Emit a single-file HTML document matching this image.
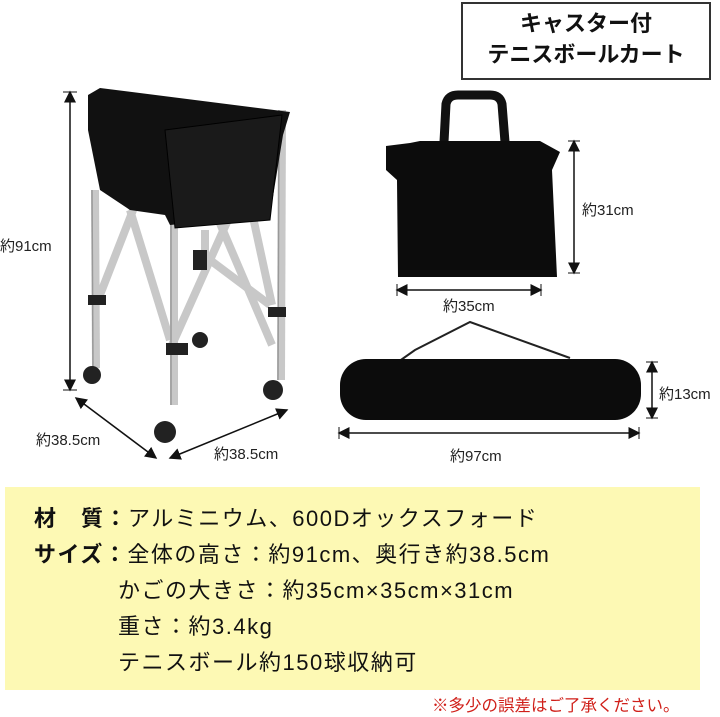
<!DOCTYPE html><html><head><meta charset="utf-8"><style>
body{margin:0;width:720px;height:717px;background:#fff;position:relative;overflow:hidden;font-family:"Liberation Sans","Noto Sans CJK JP",sans-serif;}
.t{position:absolute;white-space:nowrap;color:#222}
</style></head><body>
<svg width="720" height="717" style="position:absolute;left:0;top:0">
<defs><marker id="a" markerWidth="8" markerHeight="8" refX="7" refY="4" orient="auto-start-reverse"><path d="M0,0 L8,4 L0,8z" fill="#111"/></marker>
<linearGradient id="s" x1="0" x2="1"><stop offset="0" stop-color="#aaa"/><stop offset=".5" stop-color="#f4f4f4"/><stop offset="1" stop-color="#b0b0b0"/></linearGradient></defs>
<rect x="462" y="3" width="248" height="76" fill="#fff" stroke="#333" stroke-width="2"/>
<!-- cart -->
<g stroke="#c8c8c8" stroke-width="8" fill="none">
<line x1="95" y1="190" x2="96" y2="368"/><line x1="174" y1="125" x2="174" y2="405"/><line x1="282" y1="110" x2="281" y2="380"/><line x1="205" y1="230" x2="205" y2="270"/>
<line x1="180" y1="130" x2="272" y2="345"/><line x1="275" y1="115" x2="172" y2="345"/>
<line x1="135" y1="205" x2="98" y2="300"/><line x1="130" y1="210" x2="170" y2="340"/>
<line x1="210" y1="260" x2="270" y2="305"/><line x1="245" y1="180" x2="272" y2="305"/>
</g>
<g stroke="#999" stroke-width="1.5" fill="none">
<line x1="92" y1="190" x2="93" y2="368"/><line x1="171" y1="125" x2="171" y2="405"/><line x1="279" y1="110" x2="278" y2="380"/>
</g>
<path d="M88,95 L100,88 L290,112 L283,135 L270,215 L170,225 L165,215 L130,210 L100,190 L88,130z" fill="#111"/>
<path d="M165,130 L282,115 L270,220 L175,228z" fill="#1a1a1a" stroke="#000"/>
<g fill="#222"><rect x="88" y="295" width="18" height="10"/><rect x="166" y="343" width="22" height="12"/><rect x="268" y="307" width="18" height="10"/><rect x="193" y="250" width="14" height="20"/></g>
<g fill="#222"><circle cx="92" cy="375" r="9"/><circle cx="165" cy="432" r="11"/><circle cx="273" cy="390" r="10"/><circle cx="200" cy="340" r="8"/></g>
<line x1="70" y1="92" x2="70" y2="390" stroke="#111" stroke-width="1.5" marker-start="url(#a)" marker-end="url(#a)"/>
<line x1="63" y1="92" x2="77" y2="92" stroke="#111"/><line x1="63" y1="390" x2="77" y2="390" stroke="#111"/>
<line x1="76" y1="398" x2="156" y2="458" stroke="#111" stroke-width="1.5" marker-start="url(#a)" marker-end="url(#a)"/>
<line x1="170" y1="458" x2="287" y2="410" stroke="#111" stroke-width="1.5" marker-start="url(#a)" marker-end="url(#a)"/>
<!-- bag -->
<path d="M444,142 L446,104 Q448,95 458,95 L490,95 Q500,95 502,104 L505,142" fill="none" stroke="#111" stroke-width="9"/>
<path d="M386,146 L410,143 L420,141 L540,141 L560,152 L552,170 L557,277 L398,277 L397,180 L386,170z" fill="#0c0c0c"/>
<line x1="574" y1="141" x2="574" y2="273" stroke="#111" stroke-width="1.5" marker-start="url(#a)" marker-end="url(#a)"/>
<line x1="568" y1="141" x2="580" y2="141" stroke="#111"/><line x1="568" y1="273" x2="580" y2="273" stroke="#111"/>
<line x1="397" y1="290" x2="541" y2="290" stroke="#111" stroke-width="1.5" marker-start="url(#a)" marker-end="url(#a)"/>
<line x1="397" y1="284" x2="397" y2="296" stroke="#111"/><line x1="541" y1="284" x2="541" y2="296" stroke="#111"/>
<!-- duffel -->
<path d="M398,362 L415,350 L470,322 L570,358" fill="none" stroke="#222" stroke-width="2"/>
<rect x="340" y="359" width="301" height="61" rx="26" fill="#0c0c0c"/>
<line x1="652" y1="362" x2="652" y2="418" stroke="#111" stroke-width="1.5" marker-start="url(#a)" marker-end="url(#a)"/>
<line x1="646" y1="362" x2="658" y2="362" stroke="#111"/><line x1="646" y1="418" x2="658" y2="418" stroke="#111"/>
<line x1="339" y1="433" x2="639" y2="433" stroke="#111" stroke-width="1.5" marker-start="url(#a)" marker-end="url(#a)"/>
<line x1="339" y1="427" x2="339" y2="439" stroke="#111"/><line x1="639" y1="427" x2="639" y2="439" stroke="#111"/>
<rect x="5" y="487" width="695" height="203" fill="#fdf9b4"/>
</svg>
<div class="t" style="left:462px;top:8px;width:248px;text-align:center;font-weight:bold;font-size:22px;line-height:31px;color:#111">キャスター付<br>テニスボールカート</div>
<div class="t" style="left:0;top:235px;font-size:15px">約91cm</div>
<div class="t" style="left:36px;top:429px;font-size:15px">約38.5cm</div>
<div class="t" style="left:214px;top:443px;font-size:15px">約38.5cm</div>
<div class="t" style="left:582px;top:199px;font-size:15px">約31cm</div>
<div class="t" style="left:443px;top:295px;font-size:15px">約35cm</div>
<div class="t" style="left:659px;top:383px;font-size:15px">約13cm</div>
<div class="t" style="left:450px;top:445px;font-size:15px">約97cm</div>
<div class="t" style="left:34px;top:501px;font-size:22px;line-height:36px;color:#111;letter-spacing:1.5px"><b>材　質：</b>アルミニウム、600Dオックスフォード<br><b>サイズ：</b>全体の高さ：約91cm、奥行き約38.5cm<br><span style="padding-left:84px">かごの大きさ：約35cm×35cm×31cm</span><br><span style="padding-left:84px">重さ：約3.4kg</span><br><span style="padding-left:84px">テニスボール約150球収納可</span></div>
<div class="t" style="left:432px;top:692px;font-size:16.5px;color:#d0201a">※多少の誤差はご了承ください。</div>
</body></html>
